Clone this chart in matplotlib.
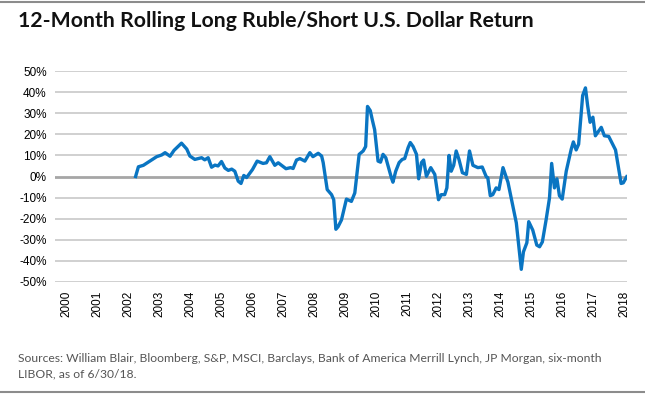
import matplotlib
matplotlib.use('Agg')
import matplotlib.pyplot as plt
from matplotlib.lines import Line2D
from matplotlib.ticker import FuncFormatter

TITLE = '12-Month Rolling Long Ruble/Short U.S. Dollar Return'
SOURCE = ('Sources: William Blair, Bloomberg, S&P, MSCI, Barclays, Bank of America Merrill Lynch, JP Morgan, six-month\n'
          'LIBOR, as of 6/30/18.')

# decimal year / return in %
years = [2002.22, 2002.31, 2002.47, 2002.68, 2002.90, 2003.06, 2003.17, 2003.33, 2003.46,
         2003.70, 2003.87, 2003.97, 2004.13, 2004.35, 2004.45, 2004.56, 2004.67, 2004.78,
         2004.88, 2004.99, 2005.10, 2005.21, 2005.32, 2005.42, 2005.53, 2005.62, 2005.71,
         2005.80, 2005.99, 2006.14, 2006.33, 2006.44, 2006.55, 2006.71, 2006.82, 2007.07,
         2007.22, 2007.30, 2007.41, 2007.52, 2007.68, 2007.84, 2007.94, 2008.11, 2008.22,
         2008.27, 2008.40, 2008.54, 2008.61, 2008.68,
         2008.75, 2008.86, 2009.02, 2009.18, 2009.29, 2009.43, 2009.56, 2009.64, 2009.70,
         2009.79, 2009.86, 2009.93, 2010.04, 2010.12, 2010.20, 2010.29, 2010.47, 2010.52,
         2010.61, 2010.72, 2010.82, 2010.90, 2011.01, 2011.08, 2011.17, 2011.28, 2011.35,
         2011.44, 2011.51, 2011.60, 2011.74, 2011.87, 2011.99, 2012.08, 2012.19, 2012.26,
         2012.33, 2012.40, 2012.48, 2012.56, 2012.65, 2012.76, 2012.89, 2012.99, 2013.10,
         2013.26, 2013.40, 2013.53, 2013.58, 2013.66, 2013.74, 2013.85, 2013.94, 2014.07,
         2014.23, 2014.50, 2014.66, 2014.73, 2014.84, 2014.90, 2015.03, 2015.16, 2015.25,
         2015.34, 2015.46, 2015.57, 2015.64, 2015.73, 2015.81, 2015.89, 2015.98, 2016.11,
         2016.27, 2016.34, 2016.43, 2016.51, 2016.59, 2016.64, 2016.73, 2016.80, 2016.88,
         2016.97, 2017.05, 2017.24, 2017.34, 2017.48, 2017.59, 2017.70, 2017.88, 2017.95,
         2018.06]
returns = [0.0, 4.6, 5.3, 7.3, 9.4, 10.2, 11.3, 9.6, 12.4,
           15.8, 13.0, 9.7, 8.1, 8.9, 7.9, 8.9, 4.4, 5.4,
           5.0, 7.1, 4.0, 2.9, 3.5, 2.5, -2.2, -3.3, 0.5,
           -0.5, 3.3, 7.3, 6.2, 6.5, 9.4, 5.3, 6.5, 3.7,
           4.2, 3.8, 7.8, 8.5, 7.3, 11.3, 9.4, 11.0, 9.7,
           6.6, -6.2, -8.6, -11.0, -25.0,
           -23.8, -20.6, -10.7, -11.8, -7.8, 10.5, 12.1, 14.2, 33.2,
           31.2, 26.5, 22.2, 7.3, 6.8, 10.5, 8.9, -0.6, -2.7,
           2.5, 6.6, 8.1, 8.5, 13.7, 16.1, 14.2, 10.5, -1.1,
           6.6, 7.8, 0.1, 4.2, 1.0, -11.0, -8.6, -8.6, -5.4,
           10.0, 2.5, 5.3, 12.1, 8.1, 1.8, 1.0, 12.1, 5.3,
           4.2, 4.5, -0.1, -0.6, -9.1, -8.6, -5.4, -6.2, 4.2,
           -2.7, -22.0, -44.0, -35.7, -31.4, -21.4, -25.4, -32.5, -33.3,
           -31.0, -20.6, -10.2, 6.2, -5.4, -1.1, -9.1, -10.7, 2.5,
           12.9, 16.4, 12.6, 15.3, 29.7, 38.4, 42.0, 33.6, 25.7,
           28.1, 19.3, 23.3, 19.3, 19.0, 15.8, 12.6, -3.3, -3.0,
           -0.1]

year_ticks = list(range(2000, 2019))
pct_ticks = list(range(-50, 51, 10))


def main():
    fig = plt.figure(figsize=(6.45, 3.95), dpi=100)
    ax = fig.add_axes([55 / 645, 1 - 282 / 395, (627 - 55) / 645, (282 - 71) / 395])

    for t in pct_ticks:
        if t == 0:
            ax.axhline(t, color='#a6a6a6', lw=2.0, zorder=1)
        else:
            ax.axhline(t, color='#c8c8c8', lw=1.2, zorder=1)

    ax.plot(years, returns, color='#0a75c2', lw=2.4, solid_joinstyle='round', zorder=3)

    ax.set_xlim(1999.62, 2018.07)
    ax.set_ylim(-50, 50)
    ax.set_xticks(year_ticks)
    ax.set_xticklabels([str(y) for y in year_ticks], rotation=90,
                       fontfamily='Liberation Sans', fontsize=8.5)
    ax.set_yticks(pct_ticks)
    ax.yaxis.set_major_formatter(FuncFormatter(lambda v, p: f'{v:.0f}%'))
    for lab in ax.get_yticklabels():
        lab.set_fontfamily('Liberation Sans')
        lab.set_fontsize(8.5)
    ax.tick_params(length=0, pad=6)
    for s in ax.spines.values():
        s.set_visible(False)

    fig.text(18 / 645, 1 - 21 / 395, TITLE, fontsize=15.3, fontweight='bold',
             fontfamily='Lato', va='center', ha='left', color='#111111')
    fig.text(18 / 645, 1 - 366 / 395, SOURCE, fontsize=8.75, fontfamily='Lato',
             va='center', ha='left', color='#555555', linespacing=1.55)

    # thin frame lines at top and bottom
    fig.add_artist(Line2D([0, 1], [1 - 2 / 395, 1 - 2 / 395], color='#8c8c8c', lw=1.5))
    fig.add_artist(Line2D([0, 1], [1 - 392 / 395, 1 - 392 / 395], color='#8c8c8c', lw=1.5))

    fig.savefig('out.png', dpi=100)


if __name__ == '__main__':
    main()
